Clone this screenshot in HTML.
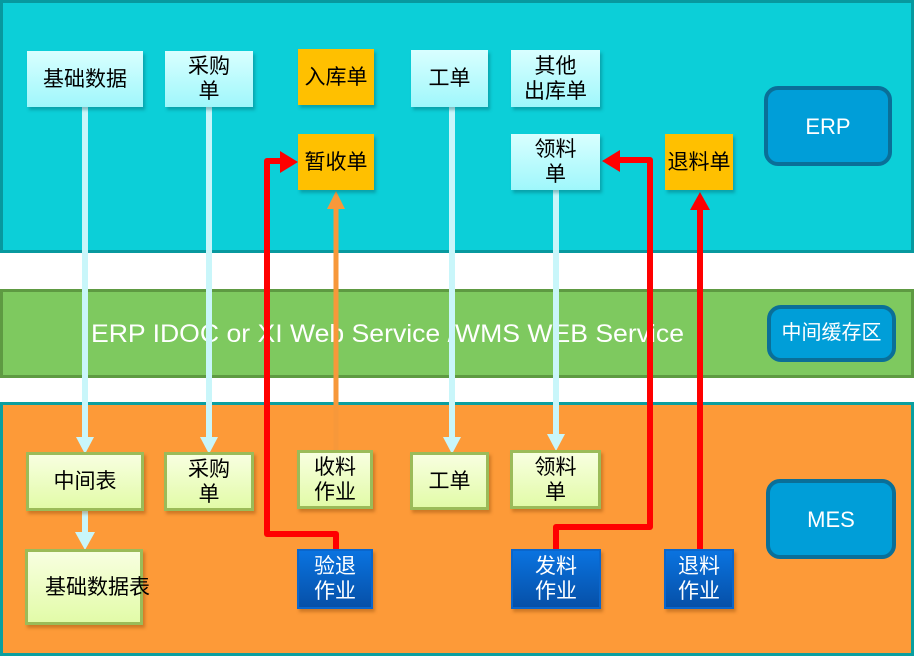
<!DOCTYPE html>
<html><head><meta charset="utf-8"><style>
body{margin:0;width:914px;height:656px;position:relative;overflow:hidden;background:#fff;font-family:"Liberation Sans","Noto Sans CJK SC",sans-serif;}
.p{position:absolute;box-sizing:border-box}
.b{position:absolute;box-sizing:border-box;display:flex;align-items:center;justify-content:center;text-align:center;font-size:21px;line-height:25px;color:#000}
.c{background:linear-gradient(#d9ffff,#9ff7fb);box-shadow:2px 3px 3px rgba(0,80,90,.35)}
.o{background:#ffc000;box-shadow:2px 3px 3px rgba(0,80,90,.35)}
.y{background:linear-gradient(#f8ffe0,#e2fba8);border:3px solid #9bbb59;box-shadow:2px 3px 3px rgba(120,60,0,.35)}
.u{background:linear-gradient(#0a73e0,#0650a8);color:#fff;border:2px solid #0a66cc;box-shadow:2px 3px 3px rgba(120,60,0,.35)}
.r{background:#009ed8;border:4px solid #0a6f98;border-radius:14px;color:#fff;font-size:22px}
</style></head><body>
<div class="p" style="left:0;top:0;width:914px;height:253px;background:#0ccfd8;border:3px solid #07999f"></div>
<div class="p" style="left:0;top:289px;width:914px;height:89px;background:#7ec95f;border:3px solid #5e9a42"></div>
<div class="p" style="left:0;top:402px;width:914px;height:254px;background:#fd9a38;border:3px solid #0a9fa0"></div>
<svg class="p" style="left:0;top:0" width="914" height="656">
<text x="91" y="342" fill="#fff" font-size="25" textLength="593" lengthAdjust="spacingAndGlyphs" font-family="Liberation Sans,sans-serif">ERP  IDOC or XI Web Service /WMS WEB Service</text>
<g stroke="#c9f6fa" stroke-width="6" fill="none">
<line x1="85" y1="107" x2="85" y2="440"/>
<line x1="209" y1="107" x2="209" y2="440"/>
<line x1="452" y1="107" x2="452" y2="440"/>
<line x1="556" y1="190" x2="556" y2="436"/>
<line x1="85" y1="510" x2="85" y2="536"/>
</g>
<g fill="#c9f6fa">
<polygon points="76,437 94,437 85,454"/>
<polygon points="200,437 218,437 209,454"/>
<polygon points="443,437 461,437 452,454"/>
<polygon points="547,434 565,434 556,451"/>
<polygon points="75,532 95,532 85,550"/>
</g>
<line x1="336" y1="450" x2="336" y2="205" stroke="#f7983a" stroke-width="5"/>
<polygon points="327,209 345,209 336,191" fill="#f7983a"/>
<g stroke="#f00" stroke-width="6" fill="none" stroke-linejoin="round">
<polyline points="336,549 336,534 267,534 267,161 284,161"/>
<polyline points="556,549 556,527 650,527 650,160 617,160"/>
<line x1="700" y1="549" x2="700" y2="206"/>
</g>
<g fill="#f00">
<polygon points="280,151 298,162 280,173"/>
<polygon points="602,161 620,150 620,172"/>
<polygon points="690,210 710,210 700,192"/>
</g>
</svg>
<div class="b c" style="left:27px;top:51px;width:116px;height:56px">基础数据</div>
<div class="b c" style="left:165px;top:51px;width:88px;height:56px">采购<br>单</div>
<div class="b o" style="left:298px;top:49px;width:76px;height:56px">入库单</div>
<div class="b c" style="left:411px;top:50px;width:77px;height:57px">工单</div>
<div class="b c" style="left:511px;top:50px;width:89px;height:57px">其他<br>出库单</div>
<div class="b o" style="left:298px;top:134px;width:76px;height:56px">暂收单</div>
<div class="b c" style="left:511px;top:134px;width:89px;height:56px">领料<br>单</div>
<div class="b o" style="left:665px;top:134px;width:68px;height:56px">退料单</div>
<div class="b r" style="left:764px;top:86px;width:128px;height:80px">ERP</div>
<div class="b r" style="left:767px;top:305px;width:129px;height:57px;font-size:20px">中间缓存区</div>
<div class="b y" style="left:26px;top:452px;width:118px;height:59px">中间表</div>
<div class="b y" style="left:164px;top:452px;width:90px;height:59px">采购<br>单</div>
<div class="b y" style="left:297px;top:450px;width:76px;height:59px">收料<br>作业</div>
<div class="b y" style="left:410px;top:452px;width:79px;height:58px">工单</div>
<div class="b y" style="left:510px;top:450px;width:91px;height:59px">领料<br>单</div>
<div class="b y" style="left:25px;top:549px;width:118px;height:76px;justify-content:flex-start;padding-left:17px;white-space:nowrap">基础数据表</div>
<div class="b u" style="left:297px;top:549px;width:76px;height:60px">验退<br>作业</div>
<div class="b u" style="left:511px;top:549px;width:90px;height:60px">发料<br>作业</div>
<div class="b u" style="left:664px;top:549px;width:70px;height:60px">退料<br>作业</div>
<div class="b r" style="left:766px;top:479px;width:130px;height:80px">MES</div>
</body></html>
